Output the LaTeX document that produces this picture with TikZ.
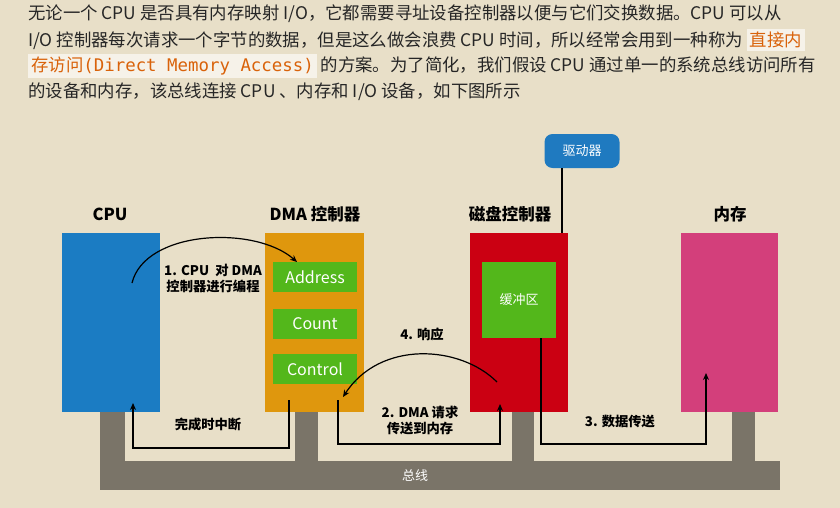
\documentclass[tikz,border=0pt]{standalone}
\usepackage{fontspec}
\setmainfont{Noto Sans CJK SC}
\newfontfamily\monof{DejaVu Sans Mono}
\usetikzlibrary{arrows.meta}
\definecolor{bg}{HTML}{E8DFC8}
\definecolor{cpuc}{HTML}{1B7CC3}
\definecolor{dmac}{HTML}{DF970D}
\definecolor{diskc}{HTML}{CB0012}
\definecolor{memc}{HTML}{D33F7B}
\definecolor{grn}{HTML}{53B71B}
\definecolor{busc}{HTML}{7A7468}
\definecolor{orng}{HTML}{D9620A}
\definecolor{drv}{HTML}{1F7AC0}
\begin{document}
\begin{tikzpicture}[x=1pt,y=-1pt,
 inbox/.style={fill=grn,draw=none,minimum width=84pt,text=white,font=\fontsize{16}{16}\selectfont},
 ttl/.style={font=\bfseries\fontsize{16.5}{16}\selectfont},
 lab/.style={font=\bfseries\fontsize{13.3}{16}\selectfont,align=center},
 conn/.style={draw=black,line width=1.2pt,-{Stealth[length=7pt,width=6pt]}},
 para/.style={anchor=west,font=\fontsize{17.4}{17}\selectfont,text=black!85,inner sep=0}]
\useasboundingbox (0,0) rectangle (840,508);
\fill[bg] (0,0) rectangle (840,508);
% paragraph
\node[para] (p1) at (28,14) {无论一个 CPU 是否具有内存映射 I/O，它都需要寻址设备控制器以便与它们交换数据。CPU 可以从};
\node[para] (p2) at (28,40) {I/O 控制器每次请求一个字节的数据，但是这么做会浪费 CPU 时间，所以经常会用到一种称为 \colorbox{white!60!bg}{\textcolor{orng}{直接内}}};
\node[para] (p3) at (28,66) {\colorbox{white!60!bg}{\textcolor{orng}{存访问\monof(Direct Memory Access)}} 的方案。为了简化，我们假设 CPU 通过单一的系统总线访问所有};
\node[para] (p4) at (28,92) {的设备和内存，该总线连接 CPU 、内存和 I/O 设备，如下图所示};
% bus
\fill[busc] (100,461) rectangle (780,490);
\fill[busc] (100,410) rectangle (125,461);
\fill[busc] (295,410) rectangle (318,461);
\fill[busc] (512,410) rectangle (534,461);
\fill[busc] (732,410) rectangle (755,461);
\node[text=white,font=\fontsize{13}{13}\selectfont] (bus) at (415,476) {总线};
% blocks
\fill[cpuc] (62,233) rectangle (160,412);
\fill[dmac] (265,233) rectangle (364,412);
\fill[diskc] (470,233) rectangle (568,412);
\fill[memc] (681,233) rectangle (778,412);
\node[ttl] (tcpu) at (110,214) {CPU};
\node[ttl] (tdma) at (315,214) {DMA 控制器};
\node[ttl] (tdisk) at (510,214) {磁盘控制器};
\node[ttl] (tmem) at (730,214) {内存};
\node[inbox,minimum height=30pt] (addr) at (315,277) {Address};
\node[inbox,minimum height=30pt] (cnt) at (315,324) {Count};
\node[inbox,minimum height=30pt] (ctl) at (315,369) {Control};
\node[fill=grn,minimum width=74pt,minimum height=76pt,text=white,font=\fontsize{13}{13}\selectfont] (buf) at (519,300) {缓冲区};
\node[fill=drv,rounded corners=8pt,minimum width=75pt,minimum height=34pt,text=white,font=\fontsize{13}{13}\selectfont] (drv) at (582,151) {驱动器};
\draw[line width=1.2pt] (drv.south -| 562,0) -- (562,233);
% arrows
\coordinate (a1s) at (132,283);
\coordinate (a1e) at (297,262);
\draw[conn] (a1s) .. controls (145,230) and (255,225) .. (a1e);
\node[lab] (l1) at (213,278) {1. CPU\ \ 对 DMA\\控制器进行编程};
\draw[conn] (289,400) -- (289,448) -- (133,448) -- (133,403);
\node[lab] (l5) at (208,424) {完成时中断};
\draw[conn] (338,400) -- (338,444) -- (500,444) -- (500,404);
\node[lab] (l2) at (420,420) {2. DMA 请求\\传送到内存};
\draw[conn] (497,382) .. controls (460,345) and (380,340) .. (343,397);
\node[lab] (l4) at (422,334) {4. 响应};
\draw[conn] (541,338) -- (541,444) -- (706,444) -- (706,373);
\node[lab] (l3) at (620,422) {3. 数据传送};
\end{tikzpicture}
\end{document}
